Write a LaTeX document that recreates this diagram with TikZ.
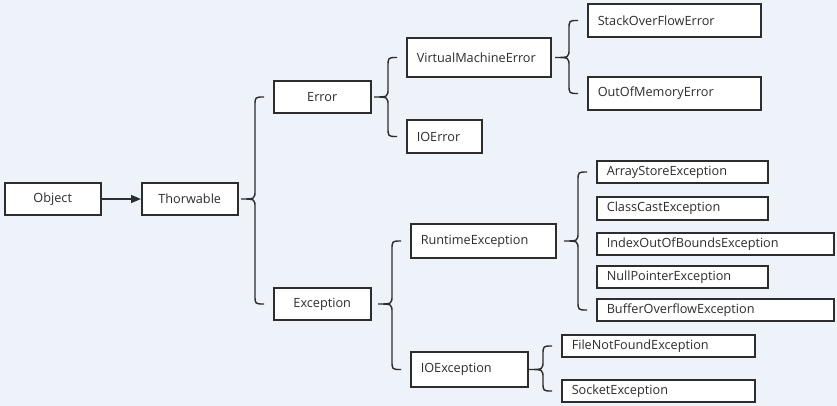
\documentclass[tikz,border=0pt]{standalone}
\usepackage{fontspec}
\setmainfont{Open Sans}
\usetikzlibrary{arrows.meta,calc}
\definecolor{bgcol}{RGB}{238,242,249}
\definecolor{linecol}{RGB}{45,45,45}
\tikzset{
  box/.style={draw=linecol, fill=white, line width=1.5pt, anchor=west,
    inner xsep=10pt, inner ysep=0pt, text=linecol,
    font=\fontsize{12.7}{14}\selectfont},
  brace/.style={draw=linecol, line width=1.4pt},
}
% brace from a parent to its first and last child
\newcommand{\childbrace}[3]{%
  \draw[brace] let \p1=(#2.west), \p2=(#3.west), \p3=(#1.east) in
    (\x1-9pt,\y1) .. controls (\x1-18pt,\y1) .. (\x1-18pt,\y1-9pt)
    -- (\x1-18pt,\y3+9pt) .. controls (\x1-18pt,\y3) .. (\x1-32pt,\y3)
    .. controls (\x1-18pt,\y3) .. (\x1-18pt,\y3-9pt)
    -- (\x1-18pt,\y2+9pt) .. controls (\x1-18pt,\y2) .. (\x1-9pt,\y2);
}

\begin{document}
\begin{tikzpicture}[x=1pt,y=-1pt]
    \useasboundingbox[fill=bgcol] (0,0) rectangle (837,406);

    % Root
    \node[box, minimum width=96pt, minimum height=32pt] (object) at (4,199) {Object};
    \node[box, minimum width=96pt, minimum height=32pt] (thorwable) at (141,199) {Thorwable};
    \draw[linecol, line width=1.4pt, -{Triangle[length=10pt,width=8pt]}] (object) -- (thorwable);

    % Error branch
    \node[box, minimum width=97pt, minimum height=32pt] (error) at (273,97) {Error};
    \node[box, text width=124pt, minimum height=39pt] (vmerror) at (406,57.5) {VirtualMachineError};
    \node[box, text width=55pt, minimum height=33pt] (ioerror) at (406,136.5) {IOError};
    \node[box, text width=153pt, minimum height=33pt] (stackoverflow) at (587,20.5) {StackOverFlowError};
    \node[box, text width=153pt, minimum height=33pt] (outofmemory) at (587,93.5) {OutOfMemoryError};

    % Exception branch
    \node[box, minimum width=97pt, minimum height=32pt] (exception) at (273,304) {Exception};
    \node[box, text width=125pt, minimum height=34pt] (runtime) at (410,241) {RuntimeException};
    \node[box, text width=97pt, minimum height=35pt] (ioexception) at (410,369.5) {IOException};

    % Runtime exceptions
    \node[box, text width=151pt, minimum height=22pt] (arraystore) at (596,172) {ArrayStoreException};
    \node[box, text width=151pt, minimum height=23pt] (classcast) at (596,208.5) {ClassCastException};
    \node[box, text width=217pt, minimum height=22pt] (indexbounds) at (596,244) {IndexOutOfBoundsException};
    \node[box, text width=151pt, minimum height=22pt] (nullpointer) at (596,277) {NullPointerException};
    \node[box, text width=217pt, minimum height=22pt] (bufferoverflow) at (596,310) {BufferOverflowException};

    % IO exceptions
    \node[box, text width=173pt, minimum height=22pt] (filenotfound) at (561,346) {FileNotFoundException};
    \node[box, text width=173pt, minimum height=22pt] (socket) at (561,391) {SocketException};

    % Braces
    \childbrace{thorwable}{error}{exception}
    \childbrace{error}{vmerror}{ioerror}
    \childbrace{vmerror}{stackoverflow}{outofmemory}
    \childbrace{exception}{runtime}{ioexception}
    \childbrace{runtime}{arraystore}{bufferoverflow}
    \childbrace{ioexception}{filenotfound}{socket}
\end{tikzpicture}
\end{document}
